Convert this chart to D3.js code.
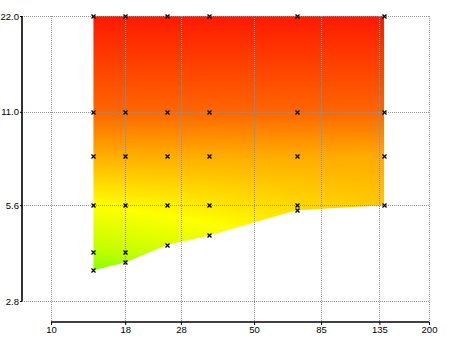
<!DOCTYPE html>
<html>
<head>
<meta charset="utf-8">
<script src="https://cdn.jsdelivr.net/npm/d3@7"></script>
<style>
  html, body { margin: 0; padding: 0; background: #fff; }
  svg { display: block; font-family: "Liberation Sans", Arial, sans-serif; }
</style>
</head>
<body>
<svg id="chart" width="450" height="337"></svg>
<script>
// Axis ticks
const xTicks = [10, 18, 28, 50, 85, 135, 200];
const yTicks = [2.8, 5.6, 11.0, 22.0];

// Measurement grid: columns and the full rows measured in every column
const xCols = [14, 18, 25, 35, 70, 140];
const yRows = [22, 11, 8, 5.6];

// Extra low points measured below the 5.6 row
const lowX = [14, 14, 18, 18, 25, 35, 70];
const lowY = [4.0, 3.5, 4.0, 3.7, 4.2, 4.5, 5.4];

// Lower limit of the measured region
const edgeX = [14, 18, 25, 35, 70, 140];
const edgeY = [3.5, 3.7, 4.2, 4.5, 5.4, 5.6];

// Colour (hue, degrees) along the left and right columns of the region
const hueY = [22, 11, 8, 5.6, 4.0, 3.5];
const hueLeft = [6, 24, 41, 60, 76, 88];
const hueRight = [6, 24, 40, 47, 56, 60];

const svg = d3.select("#chart");

const x = d3.scaleLog().domain([10, 200]).range([51, 429]);
const y = d3.scaleLog().domain([2.8, 22]).range([301, 16]);

// Coloured region, rendered per pixel into a canvas and clipped to the region outline
const x0 = Math.round(x(xCols[0])), x1 = Math.round(x(xCols[xCols.length - 1]));
const y0 = Math.round(y(yRows[0])), y1 = Math.round(y(d3.min(edgeY)));
const w = x1 - x0 + 1, h = y1 - y0 + 1;

const lgY = hueY.map(v => Math.log(v));
const hueL = d3.scaleLinear().domain(lgY).range(hueLeft).clamp(true);
const hueR = d3.scaleLinear().domain(lgY).range(hueRight).clamp(true);
const fracX = d3.scaleLog().domain([xCols[0], xCols[xCols.length - 1]]).range([0, 1]).clamp(true);

const canvas = document.createElement("canvas");
canvas.width = w; canvas.height = h;
const ctx = canvas.getContext("2d");
const img = ctx.createImageData(w, h);
for (let j = 0; j < h; j++) {
  const lv = Math.log(y.invert(y0 + j + 0.5));
  const hl = hueL(lv), hr = hueR(lv);
  for (let i = 0; i < w; i++) {
    const f = fracX(x.invert(x0 + i + 0.5));
    const c = d3.rgb(d3.hsl(hl + (hr - hl) * f, 1, 0.5));
    const k = (j * w + i) * 4;
    img.data[k] = c.r; img.data[k + 1] = c.g; img.data[k + 2] = c.b; img.data[k + 3] = 255;
  }
}
ctx.putImageData(img, 0, 0);

const outline = [[xCols[0], yRows[0]], [xCols[xCols.length - 1], yRows[0]]]
  .concat(edgeX.map((d, i) => [d, edgeY[i]]).reverse());

svg.append("clipPath").attr("id", "region")
  .append("path")
  .attr("d", d3.line().x(d => x(d[0])).y(d => y(d[1]))(outline) + "Z");

svg.append("image")
  .attr("x", x0).attr("y", y0).attr("width", w).attr("height", h)
  .attr("preserveAspectRatio", "none")
  .attr("href", canvas.toDataURL())
  .attr("clip-path", "url(#region)");

// Dotted grid lines, drawn over the coloured region
const grid = svg.append("g")
  .attr("stroke", "#909090")
  .attr("stroke-width", 1)
  .attr("stroke-dasharray", "1,1")
  .attr("shape-rendering", "crispEdges");
grid.selectAll("line.v").data(xTicks).join("line")
  .attr("class", "v")
  .attr("x1", d => Math.round(x(d)) + 0.5).attr("x2", d => Math.round(x(d)) + 0.5)
  .attr("y1", y(22)).attr("y2", 322);
grid.selectAll("line.h").data(yTicks).join("line")
  .attr("class", "h")
  .attr("y1", d => Math.round(y(d)) + 0.5).attr("y2", d => Math.round(y(d)) + 0.5)
  .attr("x1", 22).attr("x2", x(200));

// Axes
const yAxis = d3.axisLeft(y).tickValues(yTicks).tickFormat(d3.format(".1f")).tickSize(2).tickPadding(1);
const gy = svg.append("g").attr("transform", "translate(22,0)").call(yAxis);
gy.select(".domain").attr("d", `M0,${y(22)}V${y(2.8)}`).attr("stroke", "#000").attr("stroke-width", 1.6);

const xAxis = d3.axisBottom(x).tickValues(xTicks).tickFormat(d3.format("d")).tickSize(3).tickPadding(1);
const gx = svg.append("g").attr("transform", "translate(0,322)").call(xAxis);
gx.select(".domain").attr("d", `M${x(10)},0H${x(200)}`).attr("stroke", "#000").attr("stroke-width", 1.6);

svg.selectAll(".tick text").attr("font-size", 9.5).attr("fill", "#000")
  .attr("font-family", "'Liberation Sans', Arial, sans-serif");

// Measurement markers
const points = [];
xCols.forEach(cx => yRows.forEach(cy => points.push([cx, cy])));
lowX.forEach((d, i) => points.push([d, lowY[i]]));

const s = 2;
svg.append("g").attr("stroke", "#000").attr("stroke-width", 1.3)
  .selectAll("path").data(points).join("path")
  .attr("d", d => {
    const px = Math.round(x(d[0])) + 0.5, py = Math.round(y(d[1])) + 0.5;
    return `M${px - s},${py - s}L${px + s},${py + s}M${px - s},${py + s}L${px + s},${py - s}`;
  });
</script>
</body>
</html>
